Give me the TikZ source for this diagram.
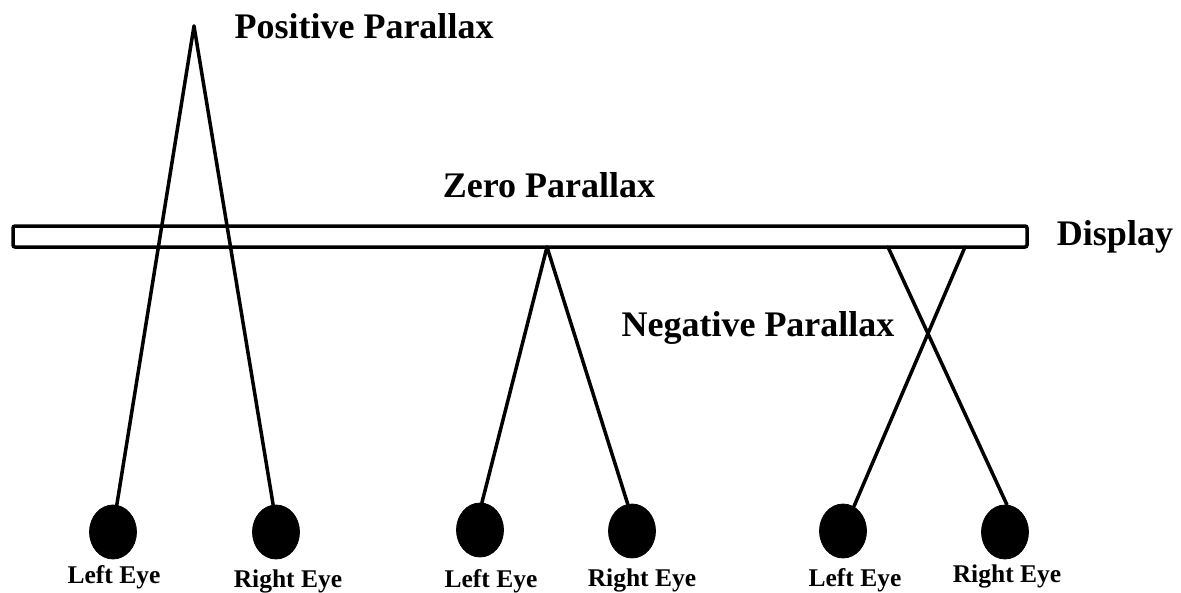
\documentclass[tikz,border=0pt]{standalone}
\usepackage{fontspec}
\setmainfont{Liberation Serif}
\usetikzlibrary{shapes.geometric}
\begin{document}
\begin{tikzpicture}[x=1pt,y=-1pt,
  line width=3.5pt,
  eyeball/.style={ellipse,fill=black,draw=black,line width=0.8pt,inner sep=0pt,minimum width=47pt,minimum height=54pt},
  bigtext/.style={font=\fontsize{36}{40}\selectfont\bfseries,inner sep=0pt,anchor=base},
  smalltext/.style={font=\fontsize{25.5}{28}\selectfont\bfseries,inner sep=0pt,anchor=base},
  ray/.style={line width=3.5pt,line cap=round}]
\useasboundingbox (0,0) rectangle (1181,592);
% display
\draw[line width=3.5pt,rounded corners=2pt] (13,226) rectangle (1027,247);
\node[bigtext] (displaylbl) at (1115,245) {Display};
% labels
\node[bigtext] (poslbl) at (364,38) {Positive Parallax};
\node[bigtext] (zerolbl) at (549,197) {Zero Parallax};
\node[bigtext] (neglbl) at (758,336) {Negative Parallax};
% apex points
\coordinate (pA) at (194,26);
\coordinate (zA) at (547,247);
\coordinate (nA1) at (888,247);
\coordinate (nA2) at (965,247);
% eyes
\node[eyeball] (e1) at (113,532) {};
\node[eyeball] (e2) at (276,532) {};
\node[eyeball] (e3) at (480,530) {};
\node[eyeball] (e4) at (632,531) {};
\node[eyeball] (e5) at (843,531) {};
\node[eyeball] (e6) at (1005,532) {};
% eye labels
\node[smalltext] (l1) at (114,583) {Left Eye};
\node[smalltext] (l2) at (288,587) {Right Eye};
\node[smalltext] (l3) at (491,587) {Left Eye};
\node[smalltext] (l4) at (642,586) {Right Eye};
\node[smalltext] (l5) at (855,586) {Left Eye};
\node[smalltext] (l6) at (1007,582) {Right Eye};
% rays
\draw[ray] (pA) -- (e1.82);
\draw[ray] (pA) -- (e2.96);
\draw[ray] (zA) -- (e3.86);
\draw[ray] (zA) -- (e4.99);
\draw[ray] (nA2) -- (e5.66);
\draw[ray] (nA1) -- (e6.86);
\end{tikzpicture}
\end{document}
